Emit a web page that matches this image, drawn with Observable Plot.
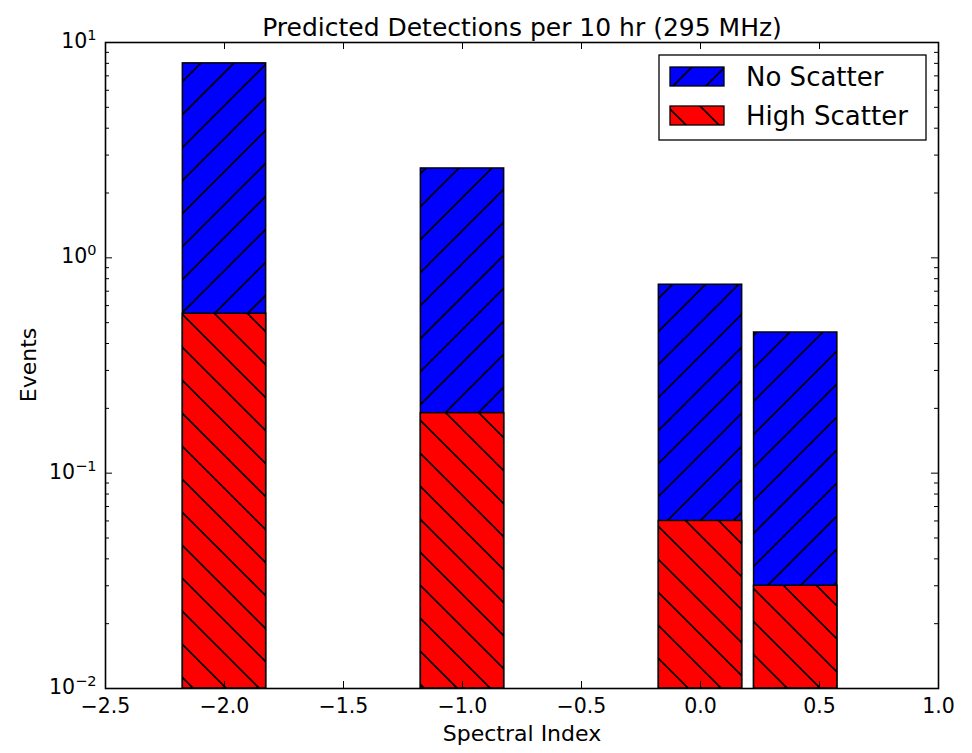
<!DOCTYPE html>
<html>
<head>
<meta charset="utf-8">
<script src="https://cdn.jsdelivr.net/npm/d3@7"></script>
<script src="https://cdn.jsdelivr.net/npm/@observablehq/plot@0.6"></script>
<style>
  body { margin: 0; background: white; }
  #chart svg { display: block; }
</style>
</head>
<body>
<div id="chart"></div>
<script>
// ---- data ----
const spectralIndex = [-2.0, -1.0, 0.0, 0.4];
const noScatter = [8.0, 2.6, 0.75, 0.45];
const highScatter = [0.55, 0.19, 0.06, 0.03];
const seriesNames = ["No Scatter", "High Scatter"];
const xTicks = [-2.5, -2.0, -1.5, -1.0, -0.5, 0.0, 0.5, 1.0];
const yMajor = [0.01, 0.1, 1, 10];
const yMajorLabels = ["10^\u22122", "10^\u22121", "10^0", "10^1"];
const yMinor = [];
for (const d of [0.01, 0.1, 1]) for (let k = 2; k <= 9; k++) yMinor.push(d * k);
const barWidth = 0.35;
const titleText = "Predicted Detections per 10 hr (295 MHz)";
const xLabel = "Spectral Index";
const yLabel = "Events";

const blueBars = spectralIndex.map((x, i) => ({x, v: noScatter[i]}));
const redBars = spectralIndex.map((x, i) => ({x, v: highScatter[i]}));

const W = 972, H = 753, mt = 42, mb = 65, ml = 105, mr = 34;
const innerW = W - ml - mr, innerH = H - mt - mb;

const plot = Plot.plot({
  width: W, height: H,
  marginTop: mt, marginBottom: mb, marginLeft: ml, marginRight: mr,
  style: {fontFamily: "DejaVu Sans", fontSize: "20px", background: "white", color: "black"},
  x: {type: "linear", domain: [-2.5, 1.0]},
  y: {type: "log", domain: [0.01, 10]},
  marks: [
    Plot.rect(blueBars, {x1: d => d.x - barWidth / 2, x2: d => d.x + barWidth / 2, y1: 0.01, y2: "v",
      fill: "url(#hatchBlue)", stroke: "black", strokeWidth: 1.5}),
    Plot.rect(redBars, {x1: d => d.x - barWidth / 2, x2: d => d.x + barWidth / 2, y1: 0.01, y2: "v",
      fill: "url(#hatchRed)", stroke: "black", strokeWidth: 1.5}),
    // ticks (inside)
    Plot.tickX(xTicks, {x: d => d, insetTop: innerH - 7, stroke: "black", strokeWidth: 1}),
    Plot.tickX(xTicks, {x: d => d, insetBottom: innerH - 7, stroke: "black", strokeWidth: 1}),
    Plot.tickY(yMajor, {y: d => d, insetRight: innerW - 7, stroke: "black", strokeWidth: 1}),
    Plot.tickY(yMajor, {y: d => d, insetLeft: innerW - 7, stroke: "black", strokeWidth: 1}),
    Plot.tickY(yMinor, {y: d => d, insetRight: innerW - 4, stroke: "black", strokeWidth: 1}),
    Plot.tickY(yMinor, {y: d => d, insetLeft: innerW - 4, stroke: "black", strokeWidth: 1}),
    Plot.frame({stroke: "black", strokeWidth: 1.6}),
    Plot.axisX({ticks: xTicks, tickFormat: d3.format(".1f"), tickSize: 0, tickPadding: 10, label: null, fontSize: 20.5, fill: "black"}),
    Plot.axisY({ticks: yMajor, tickFormat: d => yMajorLabels[yMajor.indexOf(d)], tickSize: 0, tickPadding: 9, dy: -1, label: null, fontSize: 20.5, fill: "black"}),
    Plot.text([titleText], {text: d => d, frameAnchor: "top", dy: -24, fontSize: 25, fill: "black"}),
    Plot.text([xLabel], {text: d => d, frameAnchor: "bottom", dy: 52, fontSize: 22, fill: "black"})
  ]
});

const svg = d3.select(plot);
const defs = svg.insert("defs", ":first-child");
function pattern(id, color, forward) {
  const p = defs.append("pattern").attr("id", id).attr("patternUnits", "userSpaceOnUse")
    .attr("width", 33).attr("height", 33);
  p.append("rect").attr("width", 33).attr("height", 33).attr("fill", color);
  const dpath = forward
    ? "M0,33 L33,0 M-8,8 L8,-8 M25,41 L41,25"
    : "M0,0 L33,33 M-8,25 L8,41 M25,-8 L41,8";
  p.append("path").attr("d", dpath).attr("stroke", "black").attr("stroke-width", 1.6);
}
pattern("hatchBlue", "#0000ff", true);
pattern("hatchRed", "#ff0000", false);

// y tick labels: base with superscript exponent
svg.selectAll("text").each(function () {
  const t = d3.select(this);
  const s = this.textContent;
  if (!s.includes("^")) return;
  const [base, exp] = s.split("^");
  t.text("");
  t.append("tspan").text(base);
  t.append("tspan").attr("font-size", 14.5).attr("dy", -8).text(exp);
});

// y axis label
svg.append("text").attr("transform", `translate(28,${mt + innerH / 2}) rotate(-90)`)
  .attr("text-anchor", "middle").attr("dy", "0.35em").attr("font-family", "DejaVu Sans")
  .attr("font-size", 22).attr("fill", "black").text(yLabel);

// legend
const lg = svg.append("g").attr("font-family", "DejaVu Sans").attr("font-size", 26).attr("text-anchor", "start");
lg.append("rect").attr("x", 659).attr("y", 55).attr("width", 267).attr("height", 85)
  .attr("fill", "white").attr("stroke", "black").attr("stroke-width", 1.3);
const legendItems = [
  {name: seriesNames[0], fill: "url(#hatchBlue)", y: 67},
  {name: seriesNames[1], fill: "url(#hatchRed)", y: 106}
];
for (const it of legendItems) {
  lg.append("rect").attr("x", 670).attr("y", it.y).attr("width", 54).attr("height", 19)
    .attr("fill", it.fill).attr("stroke", "black").attr("stroke-width", 1.3);
  lg.append("text").attr("x", 746).attr("y", it.y + 9.5).attr("dy", "0.35em")
    .attr("text-anchor", "start").attr("fill", "black").text(it.name);
}

document.getElementById("chart").appendChild(plot);
</script>
</body>
</html>
